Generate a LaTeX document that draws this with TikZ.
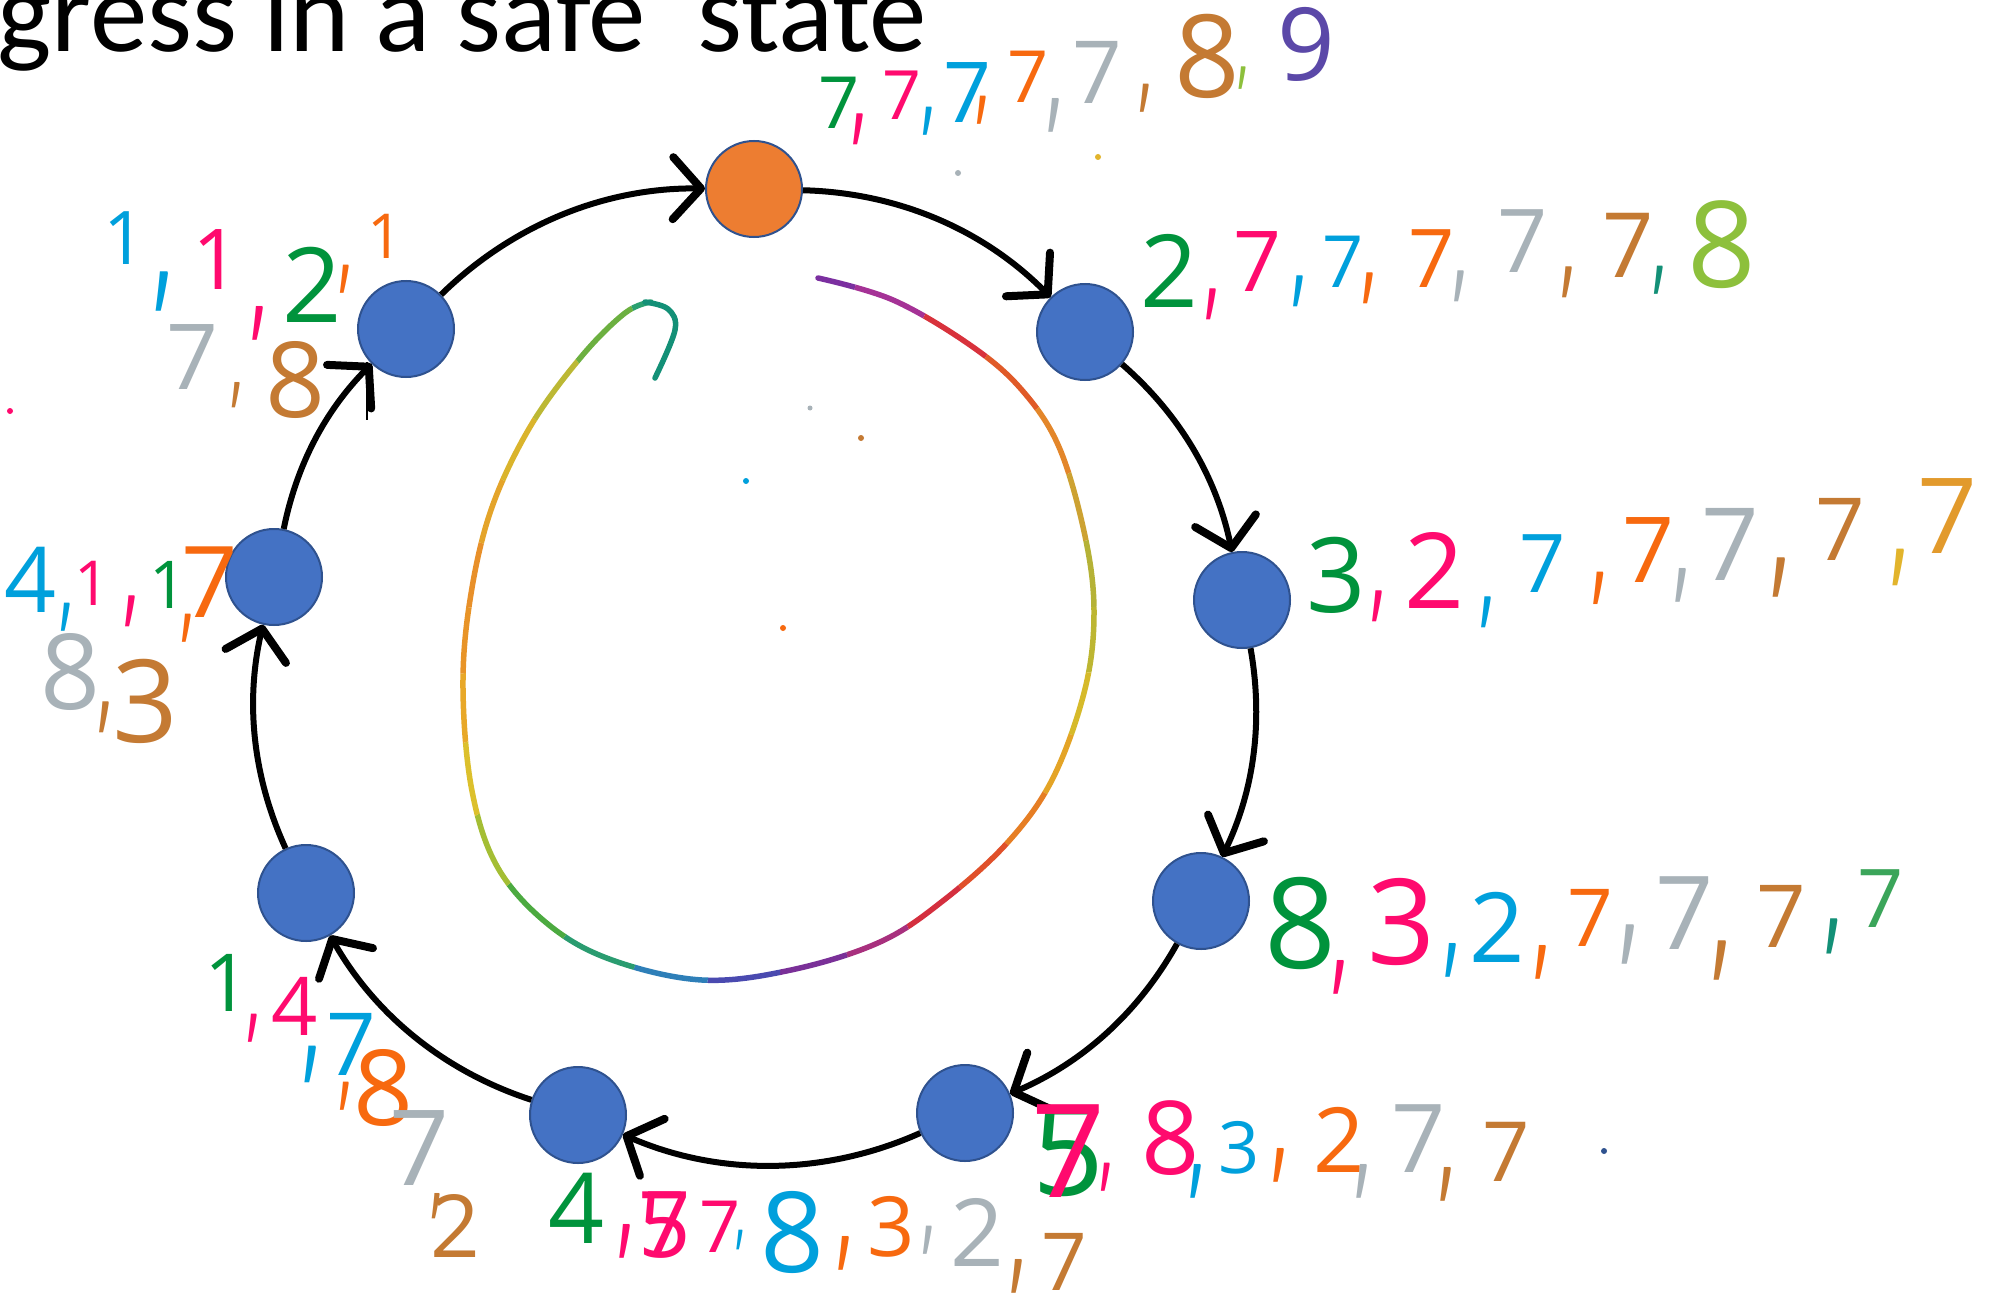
\documentclass[tikz,border=0pt]{standalone}
\usepackage{fontspec}
\newfontfamily\titlef{Carlito}
\newfontfamily\hwf{Open Sans}
\usetikzlibrary{arrows.meta,calc}
\definecolor{nblue}{HTML}{4472C4}
\definecolor{nborder}{HTML}{2F528F}
\definecolor{norange}{HTML}{ED7D31}
\definecolor{hg}{HTML}{00933C}
\definecolor{hp}{HTML}{FF0A6E}
\definecolor{hb}{HTML}{00A0DC}
\definecolor{ho}{HTML}{F7690F}
\definecolor{hgy}{HTML}{A8B2B8}
\definecolor{hbr}{HTML}{C47A33}
\definecolor{hyg}{HTML}{8DC03C}
\definecolor{hteal}{HTML}{139077}
\definecolor{hgt}{HTML}{3BA55A}
\definecolor{hpu}{HTML}{5B48A8}
\definecolor{hy}{HTML}{E2B42C}
\definecolor{hoy}{HTML}{E29A2C}
\def\cm{\scalebox{0.6}[1.15]{,}}
\def\rainpath{plot[smooth,tension=0.6] coordinates {(818,278) (893,300) (970,345) (1021,389) (1059,447) (1085,536) (1094,612) (1085,689) (1053,778) (1008,842) (944,900) (880,942) (791,970) (702,980) (612,960) (549,925) (498,868) (472,791) (463,689) (470,600) (491,510) (530,427) (581,357) (625,313) (651,302)}}
\begin{document}
\begin{tikzpicture}[x=1pt,y=-1pt,
  stnode/.style={circle, minimum size=96pt, inner sep=0pt, fill=nblue, draw=nborder, line width=2pt},
  ringedge/.style={line width=6pt, black, looseness=0.9,
     -{Straight Barb[length=28pt,width=62pt,line width=8pt,round]}},
  hw/.style={inner sep=0pt, anchor=center},
  rain/.style={line width=5.5pt, line cap=round, line join=round}]
\useasboundingbox (0,0) rectangle (2001,1300);
\clip (0,0) rectangle (2001,1300);
\fill[white] (0,0) rectangle (2001,1300);

% title
\node[anchor=base west, inner sep=0pt, font=\titlef\fontsize{115}{115}\selectfont] (title) at (-3,52) {gress in a safe\ \ state};

% inner rainbow curve
\coordinate (IC) at (780,640);
\foreach \a/\b/\c in {-96/-78/7B2FA0, -78/-66/A53296, -66/-54/D8323C, -54/-42/E05A28,
  -42/-30/E3862A, -30/-18/CDA232, -18/-6/B5B236, -6/6/BDB632, 6/18/D6BA2A, 18/30/E4A426,
  30/42/E67E24, 42/54/E0502A, 54/66/D42F3E, 66/78/A8307E, 78/90/7A3098, 90/102/4A4AB0,
  102/114/2E7FB8, 114/126/2A9C70, 126/138/4CAA40, 138/150/A4BE34, 150/162/DCC02C,
  162/174/E8A828, 174/186/E89428, 186/198/E8902A, 198/210/E4A42A, 210/222/DAB42C,
  222/234/BCB834, 234/246/6CB040, 246/264/2AA070}{
  \definecolor{tmpc}{HTML}{\c}
  \begin{scope}
    \clip (IC) -- ($(IC)+(\a:1000)$) -- ($(IC)+(\b:1000)$) -- cycle;
    \draw[rain, tmpc] \rainpath;
  \end{scope}
}
\draw[rain, hteal] plot[smooth,tension=0.6] coordinates {(645,302) (668,309) (675,330) (655,378)};

% nodes
\node[stnode, fill=norange] (n0) at (754,189) {};
\node[stnode] (n1) at (1085,332) {};
\node[stnode] (n2) at (1242,600) {};
\node[stnode] (n3) at (1201,901) {};
\node[stnode] (n4) at (965,1113) {};
\node[stnode] (n5) at (578,1115) {};
\node[stnode] (n6) at (306,893) {};
\node[stnode] (n7) at (274,577) {};
\node[stnode] (n8) at (406,329) {};

% ring connectors
\draw[ringedge] (n0) to[bend left=21.9] (n1);
\draw[ringedge] (n1) to[bend left=18.6] (n2);
\draw[ringedge] (n2) to[bend left=17.8] (n3);
\draw[ringedge] (n3) to[bend left=18.8] (n4);
\draw[ringedge] (n4) to[bend left=23.8] (n5);
\draw[ringedge] (n5) to[bend left=21.2] (n6);
\draw[ringedge] (n6) to[bend left=18.8] (n7);
\draw[ringedge] (n7) to[bend left=16.6] (n8);
\draw[ringedge] (n8) to[bend left=22.5] (n0);

% thin stroke near n8
\coordinate (tk1) at (367,362);
\coordinate (tk2) at (367,420);
\draw[line width=1.5pt] (tk1) -- (tk2);

% specks
\fill[hb] (746,481) circle (3);
\fill[ho] (783,628) circle (3);
\fill[hbr] (861,438) circle (3);
\fill[hgy] (810,408) circle (2.5);
\fill[hy] (1098,157) circle (3);
\fill[hgy] (958,173) circle (3);
\fill[nborder] (1604,1151) circle (3);
\fill[hp] (10,411) circle (3);

% label at n0
\foreach \x/\y/\c/\t/\s [count=\i] in {839/103/hg/7/72, 860/129/hp/\cm/110, 902/95/hp/7/68,
  929/121/hb/\cm/100, 968/93/hb/7/84, 983/110/ho/\cm/100, 1028/77/ho/7/72,
  1055/115/hgy/\cm/120, 1097/72/hgy/7/87, 1146/98/hbr/\cm/100, 1207/56/hbr/8/115,
  1243/78/hyg/\cm/80, 1306/44/hpu/9/101}
  {\node[hw, text=\c, font=\hwf\fontsize{\s}{\s}\selectfont] (la\i) at (\x,\y) {\t};}
% label at n1
\foreach \x/\y/\c/\t/\s [count=\i] in {1169/271/hg/2/101, 1213/304/hp/\cm/110, 1257/262/hp/7/84,
  1300/291/hb/\cm/110, 1343/262/hb/7/72, 1370/288/ho/\cm/110, 1432/259/ho/7/81,
  1461/286/hgy/\cm/110, 1523/241/hgy/7/88, 1569/282/hbr/\cm/110, 1628/245/hbr/7/90,
  1660/280/hteal/\cm/100, 1722/245/hyg/8/120}
  {\node[hw, text=\c, font=\hwf\fontsize{\s}{\s}\selectfont] (lb\i) at (\x,\y) {\t};}
% label at n2
\foreach \x/\y/\c/\t/\s [count=\i] in {1336/575/hg/3/104, 1379/606/hp/\cm/110, 1434/570/hp/2/105,
  1488/612/hb/\cm/110, 1543/564/hb/7/81, 1600/588/ho/\cm/115, 1648/550/ho/7/91,
  1682/585/hgy/\cm/120, 1730/544/hgy/7/101, 1781/578/hbr/\cm/140, 1840/529/hbr/7/87,
  1900/567/hy/\cm/130, 1947/516/hoy/7/105}
  {\node[hw, text=\c, font=\hwf\fontsize{\s}{\s}\selectfont] (lc\i) at (\x,\y) {\t};}
% label at n3
\foreach \x/\y/\c/\t/\s [count=\i] in {1301/923/hg/8/126, 1340/977/hp/\cm/120, 1402/922/hp/3/119,
  1452/960/hb/\cm/120, 1497/927/hb/2/97, 1542/962/ho/\cm/120, 1590/918/ho/7/80,
  1630/945/hgy/\cm/140, 1685/913/hgy/7/102, 1722/961/hbr/\cm/140, 1781/916/hbr/7/87,
  1834/936/hteal/\cm/125, 1881/899/hgt/7/81}
  {\node[hw, text=\c, font=\hwf\fontsize{\s}{\s}\selectfont] (ld\i) at (\x,\y) {\t};}
% label at n4
\foreach \x/\y/\c/\t/\s [count=\i] in {1069/1151/hg/5/126, 1069/1151/hp/7/130, 1107/1177/hp/\cm/100,
  1171/1138/hp/8/102, 1197/1181/hb/\cm/120, 1239/1148/hb/3/72, 1280/1165/ho/\cm/120,
  1339/1140/ho/2/90, 1363/1181/hgy/\cm/120, 1419/1139/hgy/7/95, 1447/1184/hbr/\cm/120,
  1506/1152/hbr/7/83}
  {\node[hw, text=\c, font=\hwf\fontsize{\s}{\s}\selectfont] (le\i) at (\x,\y) {\t};}
% label at n5
\foreach \x/\y/\c/\t/\s [count=\i] in {577/1208/hg/4/98, 626/1241/hp/\cm/120, 665/1225/hp/5/92,
  665/1225/hp/7/92, 720/1227/hp/7/72, 741/1240/hb/\cm/70, 793/1232/hb/8/112,
  845/1253/ho/\cm/120, 891/1227/ho/3/83, 929/1240/hgy/\cm/100, 977/1232/hgy/2/94,
  1018/1276/hbr/\cm/120, 1064/1262/hbr/7/80}
  {\node[hw, text=\c, font=\hwf\fontsize{\s}{\s}\selectfont] (lf\i) at (\x,\y) {\t};}
% label at n6
\foreach \x/\y/\c/\t/\s [count=\i] in {227/983/hg/1/80, 254/1028/hp/\cm/100, 295/1006/hp/4/81,
  312/1064/hb/\cm/130, 351/1044/hb/7/87, 346/1096/ho/\cm/100, 384/1088/ho/8/105,
  420/1148/hgy/7/105, 437/1206/hbr/\cm/90, 455/1226/hbr/2/87}
  {\node[hw, text=\c, font=\hwf\fontsize{\s}{\s}\selectfont] (lg\i) at (\x,\y) {\t};}
% label at n7
\foreach \x/\y/\c/\t/\s [count=\i] in {31/580/hb/4/91, 67/617/hb/\cm/100, 92/583/hp/1/62,
  132/611/hp/\cm/110, 168/585/hg/1/66, 188/628/ho/\cm/100, 210/582/ho/7/99,
  71/672/hgy/8/105, 106/717/hbr/\cm/110, 145/701/hbr/3/115}
  {\node[hw, text=\c, font=\hwf\fontsize{\s}{\s}\selectfont] (lh\i) at (\x,\y) {\t};}
% label at n8
\foreach \x/\y/\c/\t/\s [count=\i] in {125/238/hb/1/74, 164/292/hb/\cm/140, 217/260/hp/1/84,
  259/323/hp/\cm/120, 312/285/hg/2/104, 346/279/ho/\cm/100, 385/236/ho/1/62,
  193/357/hgy/7/91, 237/395/hbr/\cm/90, 296/380/hbr/8/105}
  {\node[hw, text=\c, font=\hwf\fontsize{\s}{\s}\selectfont] (li\i) at (\x,\y) {\t};}
\end{tikzpicture}
\end{document}
